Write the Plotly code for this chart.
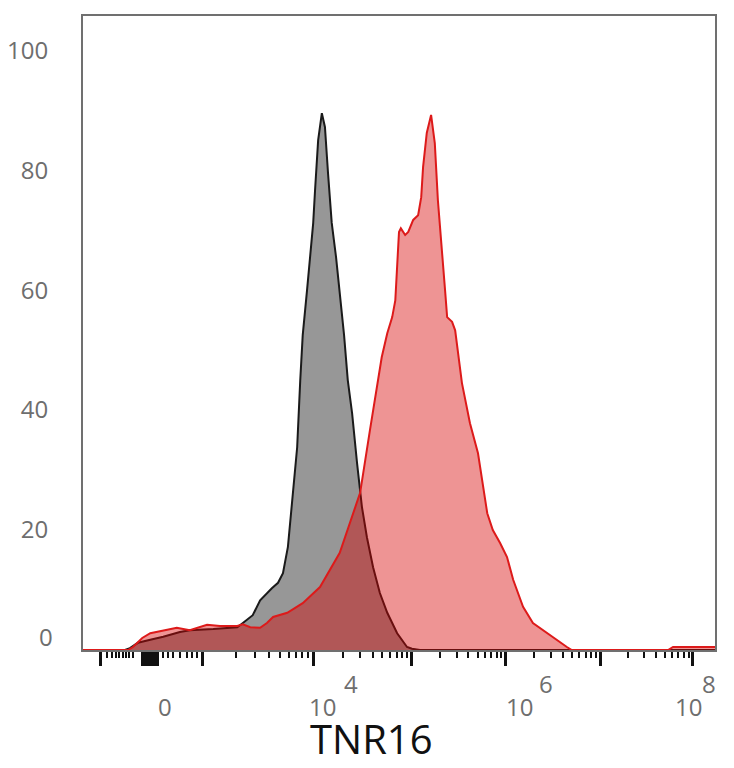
import numpy as np
import plotly.graph_objects as go

# histogram data, x in display channels (0-1024), y in % of max
grey_ch = [0, 68, 76, 89, 109, 130, 157, 173, 211, 250, 259, 275, 287, 295, 306, 316,
           324, 332, 340, 347, 352, 356, 363, 368, 373, 376, 381, 387, 392, 397, 403,
           410, 416, 423, 429, 436, 444, 452, 460, 470, 481, 493, 509, 525, 533, 546, 1024]
grey_pct = [0, 0, 0.3, 1.2, 1.7, 2.2, 3.0, 3.3, 3.5, 3.8, 4.5, 5.8, 8.3, 9.2, 10.3, 11.2,
            12.8, 17.2, 25.5, 33.8, 45, 52.5, 60, 65.5, 71.2, 76.7, 85, 89.5, 87.2, 79.5, 71.2,
            65.5, 60, 52.5, 45, 39.5, 31.2, 23.8, 18.8, 13.8, 9.5, 6.2, 2.8, 0.5, 0.2, 0, 0]

red_ch = [0, 73, 81, 96, 109, 130, 152, 173, 201, 222, 250, 259, 271, 287, 298, 308,
          331, 356, 384, 416, 433, 449, 465, 473, 476, 484, 493, 501, 506, 509, 512,
          515, 522, 527, 535, 543, 548, 551, 557, 564, 570, 575, 582, 587, 590, 598,
          603, 608, 614, 627, 640, 655, 664, 676, 687, 697, 713, 729, 752, 768, 784,
          792, 948, 956, 1024]
red_pct = [0, 0, 0.5, 2.0, 2.8, 3.2, 3.7, 3.3, 4.2, 4.0, 4.0, 4.3, 3.8, 3.7, 4.5, 5.5,
           6.2, 7.8, 10.5, 16.2, 21.2, 26.2, 36.7, 41.7, 43.8, 48.8, 52.8, 55.5, 58.3, 63.8, 69.7,
           70.3, 69.2, 69.7, 71.7, 72.5, 75.5, 80.5, 86.2, 89.2, 84.5, 75, 66.7, 59.5, 55.5, 54.7,
           53.3, 48.8, 44.5, 37.8, 32.8, 22.8, 20, 17.8, 15.5, 11.7, 7.2, 4.5, 2.8, 1.7, 0.5,
           0, 0, 0.5, 0.5]

# axis: -10^3, 10^3 ... 10^8 in channels
decade_ch = [193, 373, 533, 685, 838, 988]
major_ch = [29] + decade_ch + list(range(97, 124, 3))
minor_ch = [39, 47, 53, 58, 65, 70, 75, 81, 130, 138, 146, 157, 168, 177, 185]
for a, b in zip(decade_ch[:-1], decade_ch[1:]):
    minor_ch += [a + np.log10(k) * (b - a) for k in range(2, 10)]

y_ticks = [20, 40, 60, 80, 100]

fig = go.Figure()
fig.add_trace(go.Scatter(
    x=grey_ch, y=grey_pct, mode="lines", fill="tozeroy",
    line=dict(color="#1a1a1a", width=2), fillcolor="#979797",
))
fig.add_trace(go.Scatter(
    x=red_ch, y=red_pct, mode="lines", fill="tozeroy",
    line=dict(color="#dd1a1a", width=2), fillcolor="rgba(214,0,0,0.42)",
))

lbl_font = dict(family="Open Sans", size=24, color="#6e6e6e")
# x labels: (channel, text, y shift)
x_labels = [(133, "0", -56), (388, "10", -56), (435, "4", -33),
            (708, "10", -56), (750, "6", -33), (981, "10", -56), (1015, "8", -33)]
for xc, txt, ys in x_labels:
    fig.add_annotation(x=xc, y=0, xref="x", yref="paper", text=txt, showarrow=False,
                       xanchor="center", yanchor="middle", yshift=ys, font=lbl_font,
                       borderpad=0)
fig.add_annotation(x=0, y=2.3, xref="paper", yref="y", text="0", showarrow=False,
                   xanchor="right", yanchor="middle", xshift=-28, font=lbl_font)
fig.add_annotation(x=0.457, y=0, xref="paper", yref="paper", text="TNR16", showarrow=False,
                   xanchor="center", yanchor="middle", yshift=-88, borderpad=0,
                   font=dict(family="Open Sans", size=40, color="#111"))

# page has an 8px body margin, so the figure is shrunk to fit the window
fig.update_layout(
    width=726, height=752,
    margin=dict(l=75, r=19, t=8, b=110, autoexpand=False),
    plot_bgcolor="white", paper_bgcolor="white",
    showlegend=False,
)
fig.update_xaxes(
    range=[0, 1024], showgrid=False, zeroline=False,
    showline=True, mirror=True, linecolor="#707070", linewidth=2,
    tickmode="array", tickvals=major_ch, showticklabels=False,
    ticks="outside", ticklen=14, tickwidth=3, tickcolor="#111",
    minor=dict(tickmode="array", tickvals=minor_ch, ticks="outside",
               ticklen=6, tickwidth=1.5, tickcolor="#111"),
)
fig.update_yaxes(
    range=[0, 105.7], showgrid=False, zeroline=False,
    showline=True, mirror=True, linecolor="#707070", linewidth=2,
    tickmode="array", tickvals=y_ticks, ticks="",
    ticklabelstandoff=28, tickfont=lbl_font,
)

fig.write_html("out.html")
